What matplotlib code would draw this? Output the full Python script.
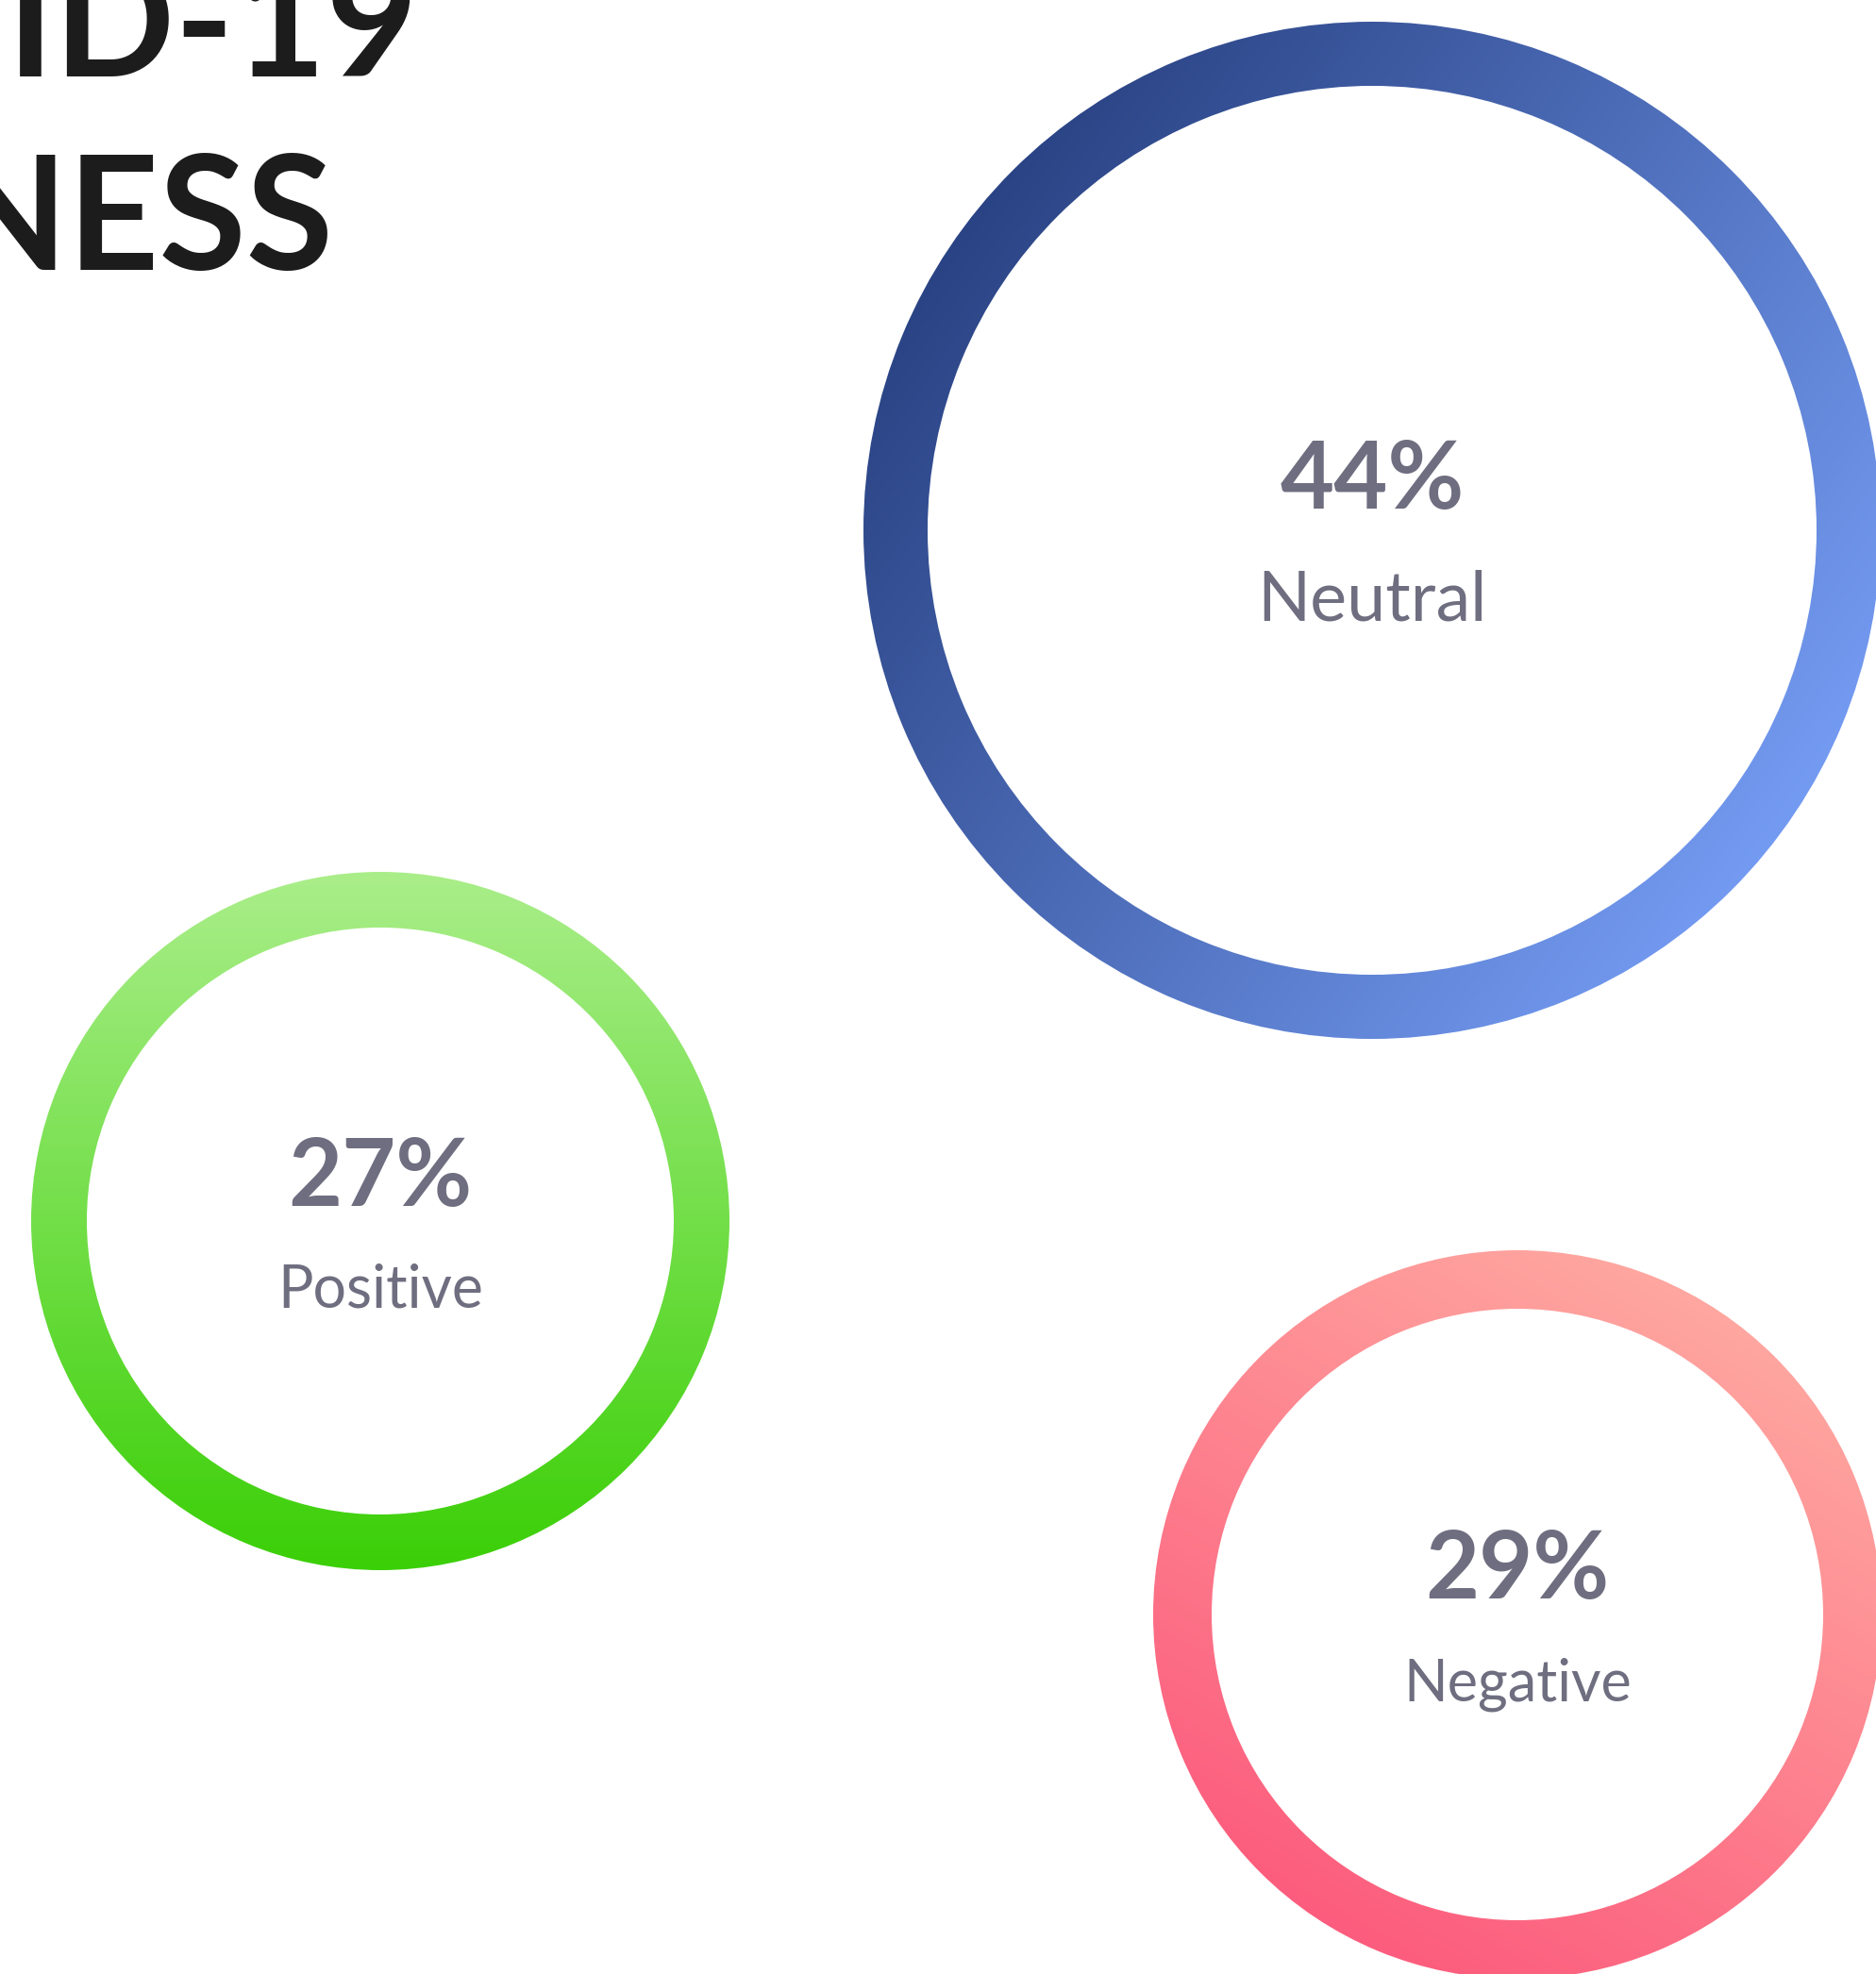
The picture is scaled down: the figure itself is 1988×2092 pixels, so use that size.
import numpy as np
import matplotlib.pyplot as plt
from matplotlib.patches import Wedge
from matplotlib.colors import to_rgb

# Sentiment shares
labels = ["Positive", "Neutral", "Negative"]
shares = [27, 44, 29]

# Ring layout in pixels: centre x, centre y, outer radius, ring width
ring_cx = [403, 1454, 1608]
ring_cy = [1294, 562, 1711]
ring_r = [370, 539, 386]
ring_w = [59, 68, 62]

# Gradient start / end colours and direction (image coords, y down)
grad_from = ["#aaee8a", "#2a4384", "#ffa7a0"]
grad_to = ["#3bcf07", "#749bf2", "#fc5c7d"]
grad_dir = [(0.0, 1.0), (0.82, 0.57), (-0.5, 0.87)]

# text sizes and baseline offsets from the ring centre
label_pt = [45, 53, 44]
label_dy = [92, 96, 91]
pct_pt = 71
text_col = "#6f6e80"

W, H = 1988, 2092
fig = plt.figure(figsize=(W / 100, H / 100), dpi=100)
ax = fig.add_axes([0, 0, 1, 1])
ax.set_xlim(0, W)
ax.set_ylim(H, 0)
ax.set_aspect("equal")
ax.axis("off")


def gradient_image(c0, c1, d, n=700):
    u = np.linspace(-1, 1, n)
    uu, vv = np.meshgrid(u, u)
    dx, dy = d
    norm = np.hypot(dx, dy)
    t = (uu * dx + vv * dy) / norm * 0.5 + 0.5
    t = np.clip(t, 0, 1)[..., None]
    a = np.array(to_rgb(c0))
    b = np.array(to_rgb(c1))
    return a * (1 - t) + b * t


for i in range(len(labels)):
    cx, cy, r = ring_cx[i], ring_cy[i], ring_r[i]
    ring = Wedge((cx, cy), r, 0, 360, width=ring_w[i],
                 facecolor="none", edgecolor="none")
    ax.add_patch(ring)
    img = gradient_image(grad_from[i], grad_to[i], grad_dir[i])
    im = ax.imshow(img, extent=[cx - r, cx + r, cy + r, cy - r],
                   origin="upper", interpolation="bilinear", zorder=1)
    im.set_clip_path(ring)

    ax.text(cx, cy - 0.043 * r, f"{shares[i]}%", ha="center", va="baseline",
            fontsize=pct_pt, fontweight="bold", family="Lato", color=text_col)
    ax.text(cx, cy + label_dy[i], labels[i], ha="center", va="baseline",
            fontsize=label_pt[i], family="Lato", color=text_col)

# Title, running off the top-left corner
ax.text(443, 81, "COVID-19", ha="right", va="baseline", fontsize=121,
        fontweight="bold", family="Lato", color="#1c1c1c", clip_on=False)
ax.text(354, 286, "AWARENESS", ha="right", va="baseline", fontsize=121,
        fontweight="bold", family="Lato", color="#1c1c1c", clip_on=False)

fig.savefig("out.png", dpi=100, facecolor="white")
